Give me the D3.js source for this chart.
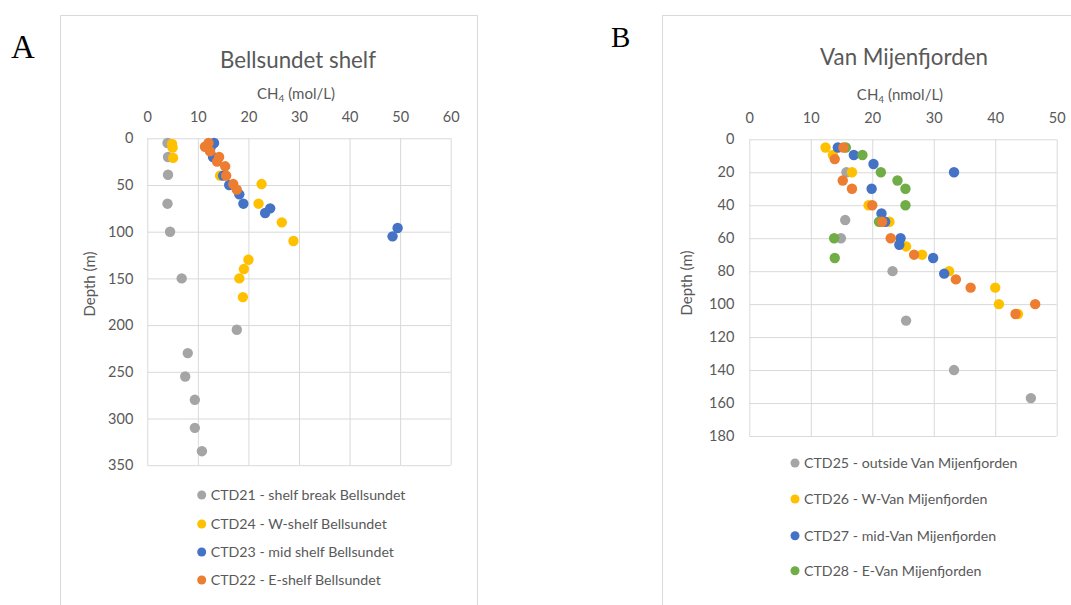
<!DOCTYPE html>
<html>
<head>
<meta charset="utf-8">
<script src="https://cdn.jsdelivr.net/npm/d3@7"></script>
<style>
  html, body { margin: 0; padding: 0; background: #fff; }
  svg { display: block; font-family: Lato, "Open Sans", sans-serif; }
</style>
</head>
<body>
<svg id="fig" width="1071" height="605"></svg>
<script>
// ---- Panel A: Bellsundet shelf (CH4 [x], depth [m]) ----
const aTicksX = [0, 10, 20, 30, 40, 50, 60];
const aTicksY = [0, 50, 100, 150, 200, 250, 300, 350];
const ctd21 = [[4.0, 5], [4.1, 20], [4.1, 39], [4.0, 70], [4.5, 100], [6.8, 150], [17.7, 205],
               [8.0, 230], [7.5, 255], [9.4, 280], [9.4, 310], [10.8, 335]];
const ctd24 = [[4.9, 6], [5.0, 10], [5.1, 21], [14.4, 40], [22.6, 49], [22.0, 70], [26.6, 90],
               [28.9, 110], [20.0, 130], [19.1, 140], [18.2, 150], [18.9, 170]];
const ctd23 = [[13.2, 5], [12.5, 10], [13.0, 20], [15.0, 40], [16.2, 50], [18.2, 60], [19.0, 70],
               [24.3, 75], [23.3, 80], [49.5, 96], [48.5, 105]];
const ctd22 = [[12.1, 5], [11.4, 9], [12.4, 14], [14.2, 20], [13.8, 25], [15.4, 30], [15.6, 40],
               [17.0, 49], [17.7, 55]];
const aNames = ["CTD21 - shelf break Bellsundet", "CTD24 - W-shelf Bellsundet",
                "CTD23 - mid shelf Bellsundet", "CTD22 - E-shelf Bellsundet"];

// ---- Panel B: Van Mijenfjorden (CH4 nmol/L, depth m) ----
const bTicksX = [0, 10, 20, 30, 40, 50];
const bTicksY = [0, 20, 40, 60, 80, 100, 120, 140, 160, 180];
const ctd25 = [[15.8, 20], [15.6, 49], [14.9, 60], [23.3, 80], [25.5, 110], [33.3, 140], [45.8, 157]];
const ctd26 = [[12.4, 5], [13.6, 9.5], [16.7, 20], [19.4, 40], [22.8, 50], [25.5, 65], [28.1, 70],
               [32.5, 80], [40.0, 90], [40.6, 100], [43.7, 106]];
const ctd27 = [[14.4, 5], [17.0, 9.5], [20.2, 15], [33.3, 20], [19.9, 30], [21.5, 45], [22.1, 50],
               [24.6, 60], [24.4, 64], [29.9, 72], [31.7, 81.5]];
const ctd28 = [[15.7, 5], [18.4, 9.5], [21.4, 20], [24.1, 25], [25.4, 30], [25.4, 40], [21.1, 50],
               [13.8, 60], [13.9, 72]];
const ctd22b = [[15.3, 5], [13.9, 12], [15.2, 25], [16.7, 30], [20.0, 40], [21.6, 50], [23.0, 60],
                [26.8, 70], [33.6, 85], [36.0, 90], [46.5, 100], [43.3, 106]];
const bNames = ["CTD25 - outside Van Mijenfjorden", "CTD26 - W-Van Mijenfjorden",
                "CTD27 - mid-Van Mijenfjorden", "CTD28 - E-Van Mijenfjorden"];

const GRAY = "#a5a5a5", YELLOW = "#ffc000", BLUE = "#4472c4", ORANGE = "#ed7d31", GREEN = "#70ad47";
const TEXT = "#595959", GRID = "#d9d9d9";

const svg = d3.select("#fig");

// chart frames
function frame(x0, x1) {
  svg.append("path")
    .attr("d", `M${x0},605 V15.5 H${x1}` + (x1 < 1071 ? " V605" : ""))
    .attr("fill", "none").attr("stroke", GRID).attr("stroke-width", 1);
}
frame(60.5, 477.5);
frame(662.5, 1072);

function panel(cfg) {
  const x = d3.scaleLinear().domain(cfg.xDomain).range(cfg.xRange);
  const y = d3.scaleLinear().domain(cfg.yDomain).range(cfg.yRange);
  const g = svg.append("g");

  // gridlines
  g.append("g").attr("transform", `translate(0,${cfg.yRange[0]})`)
    .call(d3.axisTop(x).tickValues(cfg.xTicks).tickSize(-(cfg.yRange[1] - cfg.yRange[0])).tickFormat(""))
    .call(s => s.select(".domain").remove())
    .call(s => s.selectAll("line").attr("stroke", GRID));
  g.append("g").attr("transform", `translate(${cfg.xRange[0]},0)`)
    .call(d3.axisLeft(y).tickValues(cfg.yTicks).tickSize(-(cfg.xRange[1] - cfg.xRange[0])).tickFormat(""))
    .call(s => s.select(".domain").remove())
    .call(s => s.selectAll("line").attr("stroke", GRID));

  // tick labels
  const ax = g.append("g").attr("transform", `translate(0,${cfg.yRange[0] - 16})`)
    .call(d3.axisTop(x).tickValues(cfg.xTicks).tickSize(0).tickPadding(0));
  ax.select(".domain").remove();
  ax.selectAll("text").attr("fill", TEXT).attr("font-size", 14.5).attr("font-family", "Lato");
  const ay = g.append("g").attr("transform", `translate(${cfg.xRange[0] - cfg.yLabelGap},0)`)
    .call(d3.axisLeft(y).tickValues(cfg.yTicks).tickSize(0).tickPadding(0));
  ay.select(".domain").remove();
  ay.selectAll("text").attr("fill", TEXT).attr("font-size", 14.5).attr("font-family", "Lato");

  // titles
  g.append("text").attr("x", cfg.titleX).attr("y", cfg.titleY).attr("text-anchor", "middle")
    .attr("fill", TEXT).attr("font-size", 22.3).text(cfg.title);
  const at = g.append("text").attr("x", cfg.axisTitleX).attr("y", cfg.axisTitleY)
    .attr("text-anchor", "middle").attr("fill", TEXT).attr("font-size", 15);
  at.append("tspan").text("CH");
  at.append("tspan").attr("font-size", 10).attr("dy", 3).text("4");
  at.append("tspan").attr("dy", -3).text(" " + cfg.unit);
  g.append("text")
    .attr("transform", `translate(${cfg.yTitleX},${cfg.yTitleY}) rotate(-90)`)
    .attr("text-anchor", "middle").attr("fill", TEXT).attr("font-size", 15).text("Depth (m)");

  // markers
  cfg.series.forEach(s => {
    g.append("g").selectAll("circle").data(s.data).join("circle")
      .attr("cx", d => x(d[0])).attr("cy", d => y(d[1])).attr("r", 5.2)
      .attr("fill", s.color);
  });

  // legend
  cfg.legend.forEach((l, i) => {
    const yy = cfg.legendY[i];
    g.append("circle").attr("cx", cfg.legendX).attr("cy", yy).attr("r", 4.5).attr("fill", l.color);
    g.append("text").attr("x", cfg.legendX + 9).attr("y", yy).attr("dy", "0.35em")
      .attr("fill", TEXT).attr("font-size", 14.2).text(l.name);
  });

  // panel letter
  svg.append("text").attr("x", cfg.letterX).attr("y", cfg.letterY)
    .attr("font-family", "'Liberation Serif', 'DejaVu Serif', serif").attr("font-size", cfg.letterSize)
    .attr("fill", "#000").text(cfg.letter);
}

panel({
  xDomain: [0, 60], xRange: [147.3, 450.7], yDomain: [0, 350], yRange: [138.3, 465.2],
  xTicks: aTicksX, yTicks: aTicksY, yLabelGap: 14,
  title: "Bellsundet shelf", titleX: 298, titleY: 68,
  unit: "(mol/L)", axisTitleX: 296, axisTitleY: 99, yTitleX: 95, yTitleY: 284,
  series: [{ data: ctd21, color: GRAY }, { data: ctd24, color: YELLOW },
           { data: ctd23, color: BLUE }, { data: ctd22, color: ORANGE }],
  legend: [{ name: aNames[0], color: GRAY }, { name: aNames[1], color: YELLOW },
           { name: aNames[2], color: BLUE }, { name: aNames[3], color: ORANGE }],
  legendX: 201.7, legendY: [495, 524, 552, 580],
  letter: "A", letterX: 11, letterY: 58, letterSize: 33
});

panel({
  xDomain: [0, 50], xRange: [749.3, 1056.7], yDomain: [0, 180], yRange: [139.3, 436],
  xTicks: bTicksX, yTicks: bTicksY, yLabelGap: 15,
  title: "Van Mijenfjorden", titleX: 904, titleY: 65,
  unit: "(nmol/L)", axisTitleX: 900, axisTitleY: 100, yTitleX: 692, yTitleY: 283,
  series: [{ data: ctd25, color: GRAY }, { data: ctd26, color: YELLOW },
           { data: ctd27, color: BLUE }, { data: ctd28, color: GREEN }, { data: ctd22b, color: ORANGE }],
  legend: [{ name: bNames[0], color: GRAY }, { name: bNames[1], color: YELLOW },
           { name: bNames[2], color: BLUE }, { name: bNames[3], color: GREEN }],
  legendX: 795, legendY: [463, 499, 535.7, 570.7],
  letter: "B", letterX: 611, letterY: 47, letterSize: 29
});
</script>
</body>
</html>
